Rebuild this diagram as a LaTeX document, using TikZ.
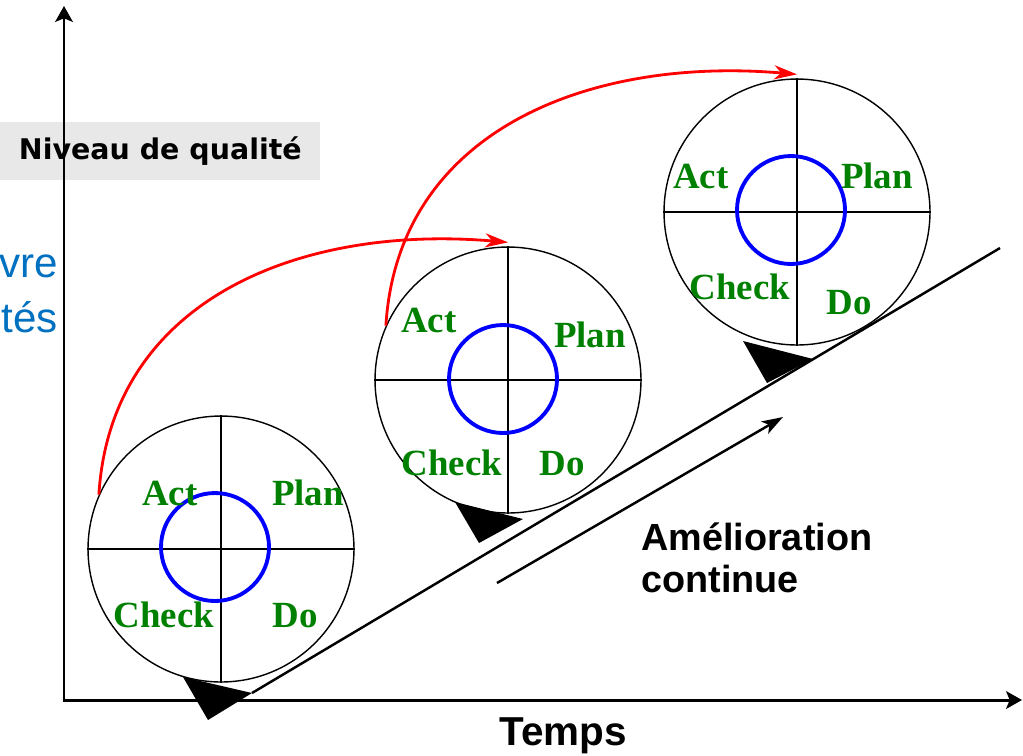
\documentclass[tikz,border=0pt]{standalone}
\usepackage{fontspec}
\setmainfont{Liberation Sans}
\newfontfamily\timesb{Liberation Serif}
\newfontfamily\tahoma{DejaVu Sans}
\usetikzlibrary{arrows.meta}
\definecolor{pdcagreen}{RGB}{0,128,0}
\definecolor{boxgray}{RGB}{232,232,232}
\definecolor{txtblue}{RGB}{0,112,192}
\definecolor{arcred}{RGB}{255,0,0}
\begin{document}
\begin{tikzpicture}[x=0.02cm,y=-0.02cm,
  pdca/.style={circle,draw,line width=0.8pt,minimum size=5.32cm,inner sep=0pt},
  ring/.style={circle,draw=blue,line width=2.2pt,minimum size=2.16cm,inner sep=0pt},
  cross/.style={line width=0.8pt},
  lab/.style={text=pdcagreen,font=\timesb\bfseries\fontsize{21}{25}\selectfont,anchor=base,inner sep=0pt},
  axis/.style={line width=1.7pt,{Stealth[length=9pt,width=10pt,inset=2pt]}-{Stealth[length=9pt,width=10pt,inset=2pt]}},
  redarc/.style={draw=arcred,line width=1.6pt,-{Stealth[length=13pt,width=8pt,inset=4pt]}},
  diag/.style={line width=1.4pt},
  big/.style={font=\bfseries\fontsize{21.5}{25}\selectfont,inner sep=0pt},
  bluetxt/.style={text=txtblue,font=\fontsize{24}{28}\selectfont,inner sep=0pt,anchor=base east}]
\useasboundingbox (0,0) rectangle (1023,755);

% label box
\node[fill=boxgray,minimum width=6.4cm,minimum height=1.16cm,anchor=north west,inner sep=0pt,
  font=\tahoma\bfseries\fontsize{16.2}{19}\selectfont] (nq) at (0,122) {Niveau de qualit\'e};
\node[bluetxt] (v1) at (58,277) {vre};
\node[bluetxt] (v2) at (58,332) {t\'es};

% axes
\coordinate (O) at (64,700);
\coordinate (ytop) at (64,6);
\coordinate (xend) at (1022,700);
\draw[axis,line join=miter] (ytop) -- (O) -- (xend);

% triangles
\coordinate (t1a) at (183,677); \coordinate (t1b) at (252,693); \coordinate (t1c) at (208,720);
\coordinate (t2a) at (455,502); \coordinate (t2b) at (523,519); \coordinate (t2c) at (479,543);
\coordinate (t3a) at (743,341); \coordinate (t3b) at (813,359); \coordinate (t3c) at (767,383);
\fill (t1a) -- (t1b) -- (t1c) -- cycle;
\fill (t2a) -- (t2b) -- (t2c) -- cycle;
\fill (t3a) -- (t3b) -- (t3c) -- cycle;

% diagonal
\coordinate (dend) at (1000,248);
\draw[diag] (t1b) -- (dend);

% circles
\node[pdca] (c1) at (221,549) {};
\node[pdca] (c2) at (508,380) {};
\node[pdca] (c3) at (797,212) {};
\foreach \c in {c1,c2,c3}{
  \draw[cross] (\c.north) -- (\c.south);
  \draw[cross] (\c.west) -- (\c.east);
}
\node[ring] (b1) at (215,547) {};
\node[ring] (b2) at (503,379) {};
\node[ring] (b3) at (791,210) {};

% labels
\node[lab] (a1) at (170,505) {Act};
\node[lab] (p1) at (308,505) {Plan};
\node[lab] (k1) at (164,627) {Check};
\node[lab] (d1) at (295,627) {Do};
\node[lab] (a2) at (429,332) {Act};
\node[lab] (p2) at (590,347) {Plan};
\node[lab] (k2) at (452,475) {Check};
\node[lab] (d2) at (562,475) {Do};
\node[lab] (a3) at (701,188) {Act};
\node[lab] (p3) at (877,188) {Plan};
\node[lab] (k3) at (740,299) {Check};
\node[lab] (d3) at (849,314) {Do};

% red arcs
\draw[redarc] (c1.156) .. controls +(12,-195) and +(-208,-18) .. ([yshift=0.08cm]c2.north);
\draw[redarc] (c2.156) .. controls +(12,-195) and +(-208,-18) .. ([yshift=0.08cm]c3.north);

% improvement arrow
\coordinate (m1) at (497,583);
\coordinate (m2) at (783,417);
\draw[diag,-{Stealth[length=12pt,width=8pt,inset=3pt]}] (m1) -- (m2);
\node[big,anchor=base west] (am) at (641,550) {Am\'elioration};
\node[big,anchor=base west] (co) at (641,592) {continue};

\node[big,anchor=base,font=\bfseries\fontsize{23}{27}\selectfont] (tp) at (563,745) {Temps};
\end{tikzpicture}
\end{document}
